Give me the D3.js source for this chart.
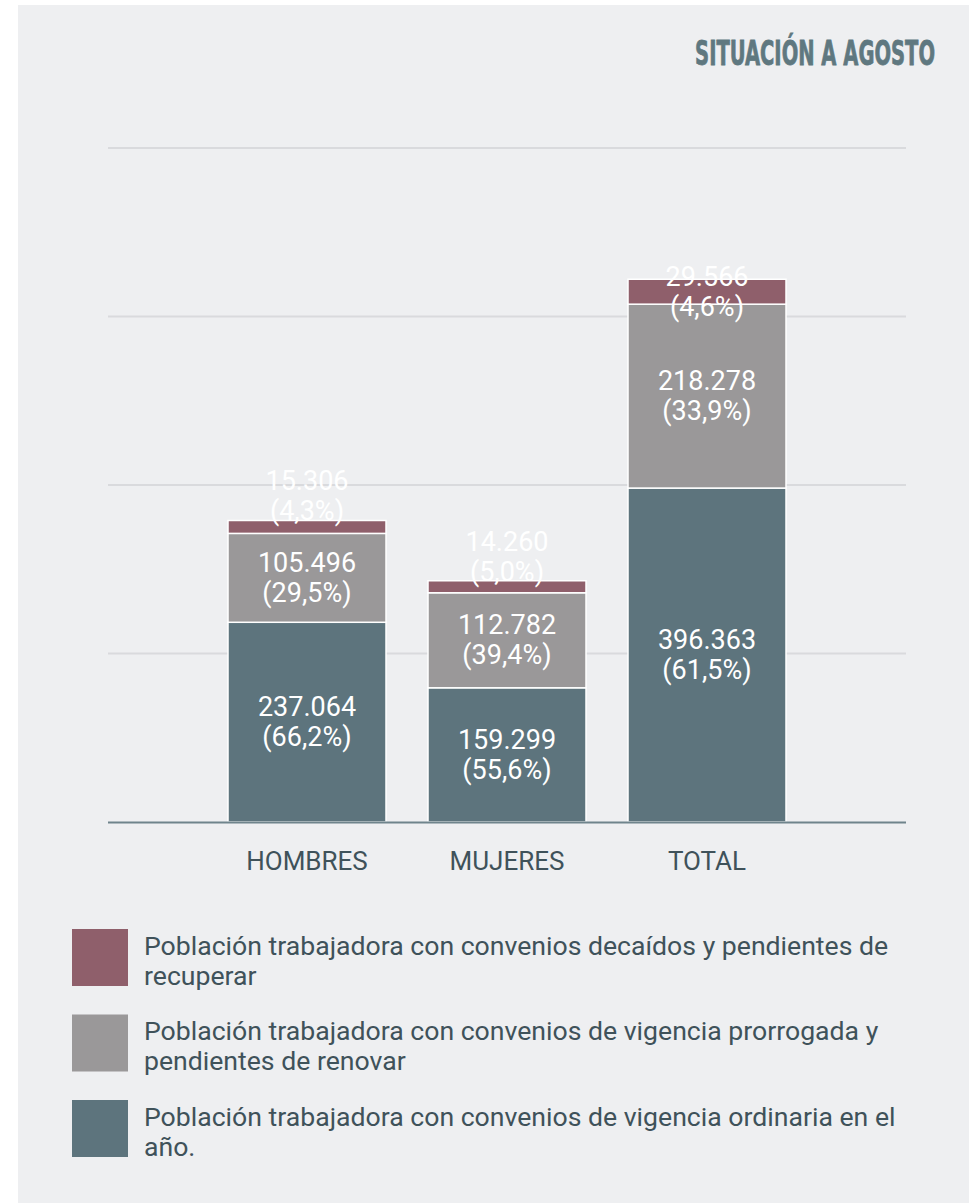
<!DOCTYPE html>
<html>
<head>
<meta charset="utf-8">
<script src="https://cdn.jsdelivr.net/npm/d3@7"></script>
<style>
  body { margin: 0; background: #fff; }
  svg text { font-family: Roboto, "Liberation Sans", sans-serif; }
</style>
</head>
<body>
<div id="roott"></div>
<script>
// DATA
const categories = ["HOMBRES", "MUJERES", "TOTAL"];
const ordinaria  = [237064, 159299, 396363];
const prorrogada = [105496, 112782, 218278];
const decaidos   = [15306, 14260, 29566];
const pctOrdinaria  = ["66,2%", "55,6%", "61,5%"];
const pctProrrogada = ["29,5%", "39,4%", "33,9%"];
const pctDecaidos   = ["4,3%", "5,0%", "4,6%"];
const yTicks = [0, 200000, 400000, 600000, 800000];
const legendLabels = [
  ["Población trabajadora con convenios decaídos y pendientes de", "recuperar"],
  ["Población trabajadora con convenios de vigencia prorrogada y", "pendientes de renovar"],
  ["Población trabajadora con convenios de vigencia ordinaria en el", "año."]
];

// DIMENSIONS
const widthh = 977, heightt = 1203;
const colors = { ord: "#5d747d", pro: "#9a9899", dec: "#8f5f6b" };

let svg = d3.select('#roott').append('svg')
  .attr('width', widthh).attr('height', heightt);

// panel background
svg.append('rect').attr('x', 18).attr('y', 5).attr('width', 951).attr('height', 1198)
  .attr('fill', '#eeeff1');

// title (condensed by scaling to the reference width)
let title = svg.append('g').attr('transform', 'translate(935, 65)')
  .append('text')
  .attr('text-anchor', 'end')
  .style('font-family', '"DejaVu Sans Condensed", "DejaVu Sans", sans-serif')
  .style('font-weight', 'bold')
  .style('font-size', '34px')
  .style('fill', '#5f7880')
  .style('stroke', '#5f7880').style('stroke-width', 0.8)
  .text('SITUACIÓN A AGOSTO');
let tw = title.node().getComputedTextLength();
title.attr('transform', `scale(${240 / tw}, 1)`);

const x0 = 108, x1 = 906, yBase = 822;

let xScale = d3.scaleBand().domain(categories).range([x0, x1])
  .paddingInner(0.21).paddingOuter(0.6);

let yScale = d3.scaleLinear().domain([0, 800000]).range([yBase, yBase - 674]);

// gridlines
svg.append('g').selectAll('line').data(yTicks.slice(1)).enter().append('line')
  .attr('x1', x0).attr('x2', x1)
  .attr('y1', d => yScale(d)).attr('y2', d => yScale(d))
  .attr('stroke', '#d9dadd').attr('stroke-width', 2);

// stacked data
let rows = categories.map((c, i) => ({
  cat: c, ord: ordinaria[i], pro: prorrogada[i], dec: decaidos[i],
  pord: pctOrdinaria[i], ppro: pctProrrogada[i], pdec: pctDecaidos[i]
}));
let stack = d3.stack().keys(['ord', 'pro', 'dec'])(rows);
const pctKey = { ord: 'pord', pro: 'ppro', dec: 'pdec' };

let fmt = v => d3.format(',')(v).replace(/,/g, '.');

stack.forEach(layer => {
  let g = svg.append('g');
  g.selectAll('rect').data(layer).enter().append('rect')
    .attr('x', d => xScale(d.data.cat))
    .attr('width', xScale.bandwidth())
    .attr('y', d => yScale(d[1]))
    .attr('height', d => yScale(d[0]) - yScale(d[1]))
    .attr('fill', colors[layer.key])
    .attr('stroke', '#fff').attr('stroke-width', 1.5);

  g.selectAll('text').data(layer).enter().append('text')
    .attr('text-anchor', 'middle')
    .style('fill', '#fff').style('font-size', '27px')
    .each(function (d) {
      let top = yScale(d[1]), bot = yScale(d[0]);
      let h = bot - top;
      let cx = xScale(d.data.cat) + xScale.bandwidth() / 2;
      // small segments: label sits just above the bar
      let cy = h < 20 ? top - 24 : (top + bot) / 2;
      let t = d3.select(this);
      t.append('tspan').attr('x', cx).attr('y', cy - 6)
        .text(fmt(d.data[layer.key]));
      t.append('tspan').attr('x', cx).attr('y', cy + 24)
        .text('(' + d.data[pctKey[layer.key]] + ')');
    });
});

// x axis
svg.append('line').attr('x1', x0).attr('x2', x1)
  .attr('y1', yBase + 0.5).attr('y2', yBase + 0.5)
  .attr('stroke', '#6f848c').attr('stroke-width', 2);

svg.append('g').selectAll('text').data(categories).enter().append('text')
  .attr('x', d => xScale(d) + xScale.bandwidth() / 2)
  .attr('y', 870)
  .attr('text-anchor', 'middle')
  .style('font-size', '26px').style('fill', '#3f525a')
  .text(d => d);

// legend
let legColors = [colors.dec, colors.pro, colors.ord];
let leg = svg.append('g').selectAll('g').data(legendLabels).enter().append('g')
  .attr('transform', (d, i) => `translate(72, ${929 + i * 85.5})`);
leg.append('rect').attr('width', 56).attr('height', 57)
  .attr('fill', (d, i) => legColors[i]);
leg.append('g').attr('transform', 'translate(72, 0) scale(1.005, 1)')
  .append('text')
  .style('font-size', '26.5px').style('fill', '#3f525a')
  .each(function (d) {
    let t = d3.select(this);
    d.forEach((line, j) => {
      t.append('tspan').attr('x', 0).attr('y', 26 + j * 30).text(line);
    });
  });
</script>
</body>
</html>
